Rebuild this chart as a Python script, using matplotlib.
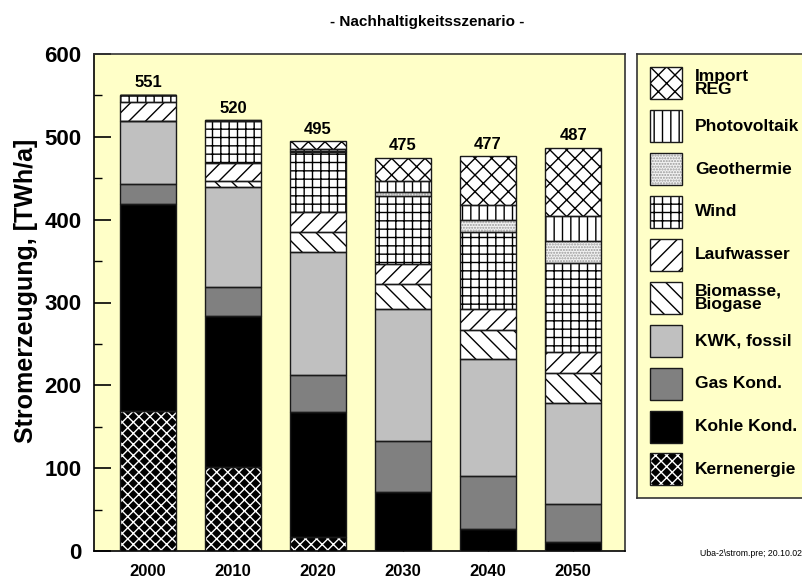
import matplotlib.pyplot as plt
import numpy as np
from matplotlib.patches import Rectangle

plt.rcParams["font.family"] = ["Liberation Sans", "DejaVu Sans"]
plt.rcParams["hatch.linewidth"] = 1.0

years = ["2000", "2010", "2020", "2030", "2040", "2050"]

# Stromerzeugung in TWh/a, von unten nach oben gestapelt
kernenergie = [169, 101, 17, 0, 0, 0]
kohle = [250, 183, 151, 71, 26, 11]
gas = [24, 35, 45, 62, 65, 46]
kwk = [76, 121, 148, 159, 141, 122]
biomasse = [0, 7, 24, 30, 35, 36]
laufwasser = [23, 22, 24, 25, 25, 25]
wind = [9, 50, 73, 81, 93, 108]
geothermie = [0, 0, 1, 5, 14, 26]
photovoltaik = [0, 1, 2, 14, 19, 30]
import_reg = [0, 0, 10, 28, 59, 83]
totals = [551, 520, 495, 475, 477, 487]

yticks = [0, 100, 200, 300, 400, 500, 600]

BG = "#ffffc8"

# name, values, face colour, hatch, hatch colour
series = [
    ("Kernenergie", kernenergie, "black", "xxx", "white"),
    ("Kohle Kond.", kohle, "black", None, "black"),
    ("Gas Kond.", gas, "#808080", None, "#808080"),
    ("KWK, fossil", kwk, "#c0c0c0", None, "#c0c0c0"),
    ("Biomasse,\nBiogase", biomasse, "white", "\\\\", "black"),
    ("Laufwasser", laufwasser, "white", "//", "black"),
    ("Wind", wind, "white", "++", "black"),
    ("Geothermie", geothermie, "#f2f2f2", "......", "#999999"),
    ("Photovoltaik", photovoltaik, "white", "||", "black"),
    ("Import\nREG", import_reg, "white", "xx", "black"),
]

fig = plt.figure(figsize=(8.03, 5.79), dpi=100)
ax = fig.add_axes([94 / 803, 1 - 551 / 579, 531 / 803, 497 / 579])
ax.set_facecolor(BG)

x = np.arange(len(years))
width = 0.65
bottom = np.zeros(len(years))
for name, vals, face, hatch, hcol in series:
    vals = np.array(vals, dtype=float)
    ax.bar(x, vals, width, bottom=bottom, color=face, edgecolor=hcol,
           hatch=hatch, linewidth=0, zorder=2)
    ax.bar(x, vals, width, bottom=bottom, fill=False, edgecolor="#1a1a1a",
           linewidth=1.0, zorder=3)
    bottom += vals

for xi, tot in zip(x, totals):
    ax.text(xi, tot + 5, str(tot), ha="center", va="bottom",
            fontsize=12, fontweight="bold")

ax.set_xlim(-0.635, 5.61)
ax.set_ylim(0, 600)
ax.set_yticks(yticks)
ax.set_yticks(np.arange(50, 600, 100), minor=True)
ax.set_yticklabels([str(v) for v in yticks], fontsize=16, fontweight="bold")
ax.set_xticks(x)
ax.set_xticklabels(years, fontsize=12, fontweight="bold")
ax.tick_params(axis="y", which="major", direction="in", length=12, width=1.2, pad=9)
ax.tick_params(axis="y", which="minor", direction="in", length=6, width=1.0)
ax.tick_params(axis="x", direction="in", length=3, width=1.0, pad=9)
for s in ax.spines.values():
    s.set_color("#333333")
    s.set_linewidth(1.2)
ax.spines["left"].set_color("black")
ax.spines["bottom"].set_color("black")

fig.text(26 / 803, 1 - 291 / 579, "Stromerzeugung, [TWh/a]", rotation=90,
         ha="center", va="center", fontsize=18, fontweight="bold")
fig.text(427 / 803, 1 - 22 / 579, "- Nachhaltigkeitsszenario -",
         ha="center", va="center", fontsize=11, fontweight="bold")
fig.text(802 / 803, 1 - 553 / 579, "Uba-2\\strom.pre; 20.10.02",
         ha="right", va="center", fontsize=6.3)

# legend box
lax = fig.add_axes([637 / 803, 1 - 498 / 579, 190 / 803, 444 / 579])
lax.set_facecolor(BG)
lax.set_xlim(0, 190)
lax.set_ylim(444, 0)
lax.set_xticks([])
lax.set_yticks([])
for s in lax.spines.values():
    s.set_color("#333333")
    s.set_linewidth(1.2)

for i, (name, vals, face, hatch, hcol) in enumerate(series[::-1]):
    top = 13.3 + i * 42.9
    lax.add_patch(Rectangle((13, top), 32, 32, facecolor=face, edgecolor=hcol,
                            hatch=hatch, linewidth=0))
    lax.add_patch(Rectangle((13, top), 32, 32, fill=False, edgecolor="#1a1a1a",
                            linewidth=1.0))
    lax.text(58, top + 16, name, ha="left", va="center", fontsize=12.5,
             fontweight="bold", linespacing=0.85)

fig.savefig("out.png", dpi=100, facecolor="white")
